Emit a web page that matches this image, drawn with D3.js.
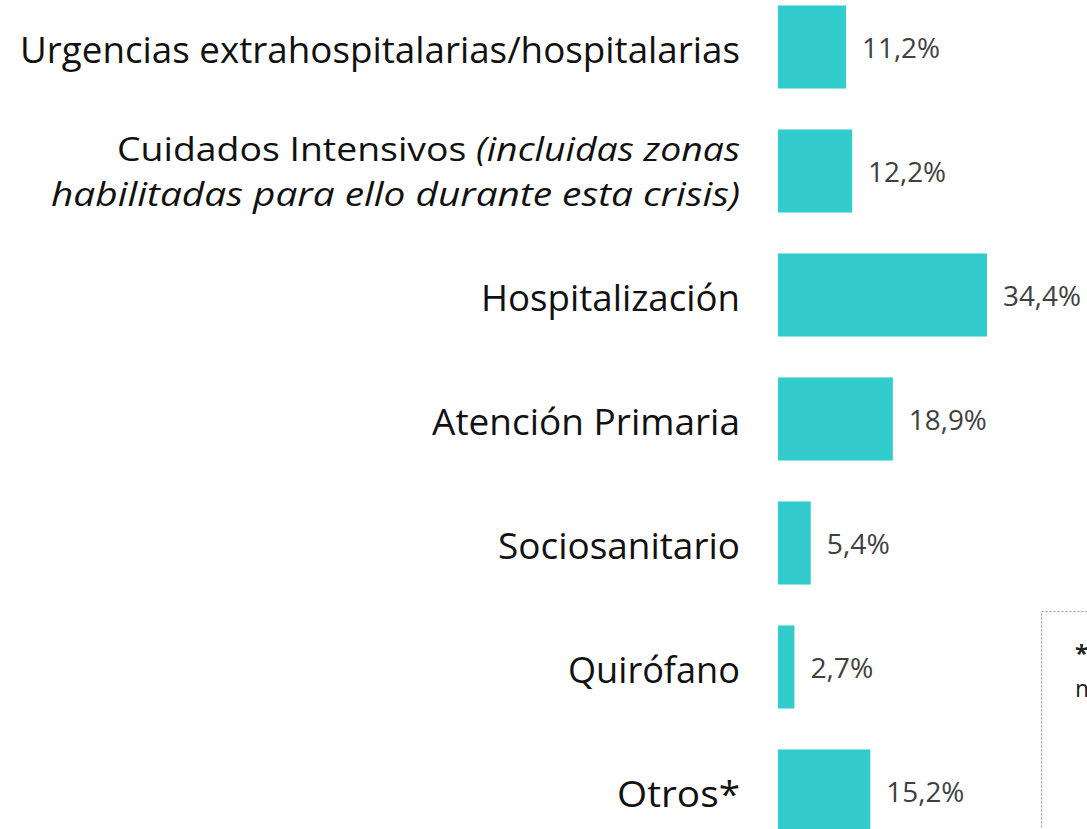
<!DOCTYPE html>
<html><head><meta charset="utf-8">
<script src="https://cdn.jsdelivr.net/npm/d3@7"></script>
<style>body{margin:0;background:#fff;overflow:hidden}</style>
</head><body>
<script>
const categories = ["Urgencias extrahospitalarias/hospitalarias","Cuidados Intensivos","Hospitalización","Atención Primaria","Sociosanitario","Quirófano","Otros*"];
const values = [11.2, 12.2, 34.4, 18.9, 5.4, 2.7, 15.2];
const valueLabels = ["11,2%","12,2%","34,4%","18,9%","5,4%","2,7%","15,2%"];

const W = 1087, H = 829;
const svg = d3.select("body").append("svg").attr("width", W).attr("height", H);

const x0 = 778;
const x = d3.scaleLinear().domain([0, 34.4]).range([x0, 987]);
const y = d3.scaleBand().domain(categories).range([-15, 853]).paddingInner(0.33).paddingOuter(0.165);

svg.selectAll("rect.bar").data(values).join("rect")
  .attr("x", x0).attr("y", (d,i)=>y(categories[i]))
  .attr("width", d=>x(d)-x0).attr("height", y.bandwidth())
  .attr("fill", "#33CCCC");

const font = "'Open Sans', sans-serif";
const valueWidths = [78,78,78,78,63,63,78];
svg.selectAll("text.val").data(values).join("text")
  .attr("x", d=>x(d)+16).attr("y", (d,i)=>y(categories[i])+y.bandwidth()/2 + 11)
  .attr("font-family", font).attr("font-size", 28)
  .attr("textLength",(d,i)=>valueWidths[i]).attr("lengthAdjust","spacingAndGlyphs")
  .attr("fill", "#404040").text((d,i)=>valueLabels[i]);

const labelWidths = {"Urgencias extrahospitalarias/hospitalarias":720,"Hospitalización":259,"Atención Primaria":308,"Sociosanitario":242,"Quirófano":172,"Otros*":123};
const fs = 37;
categories.forEach((c,i)=>{
  const cy = y(c)+y.bandwidth()/2;
  if (c === "Cuidados Intensivos") {
    const t1 = svg.append("text").attr("x",740).attr("y",cy-10)
      .attr("text-anchor","end").attr("font-family",font).attr("font-size",33).attr("fill","#111")
      .attr("textLength",623).attr("lengthAdjust","spacingAndGlyphs");
    t1.append("tspan").text("Cuidados Intensivos ");
    t1.append("tspan").attr("font-style","italic").text("(incluidas zonas");
    svg.append("text").attr("x",740).attr("y",cy+35)
      .attr("text-anchor","end").attr("font-family",font).attr("font-size",33).attr("fill","#111")
      .attr("font-style","italic").attr("textLength",689).attr("lengthAdjust","spacingAndGlyphs")
      .text("habilitadas para ello durante esta crisis)");
  } else {
    svg.append("text").attr("x",740).attr("y",cy+16)
      .attr("text-anchor","end").attr("font-family",font).attr("font-size",fs).attr("fill","#111")
      .attr("textLength",labelWidths[c]).attr("lengthAdjust","spacingAndGlyphs").text(c);
  }
});

// footnote box (cut off at right edge)
svg.append("rect").attr("x",1041.5).attr("y",611.5).attr("width",200).attr("height",240)
  .attr("fill","none").attr("stroke","#999").attr("stroke-dasharray","2,2");
svg.append("text").attr("x",1075).attr("y",662).attr("font-family",font).attr("font-size",24)
  .attr("font-weight","bold").attr("fill","#222").text("*");
svg.append("text").attr("x",1075).attr("y",697).attr("font-family",font).attr("font-size",24)
  .attr("fill","#222").text("m");
</script>
</body></html>
